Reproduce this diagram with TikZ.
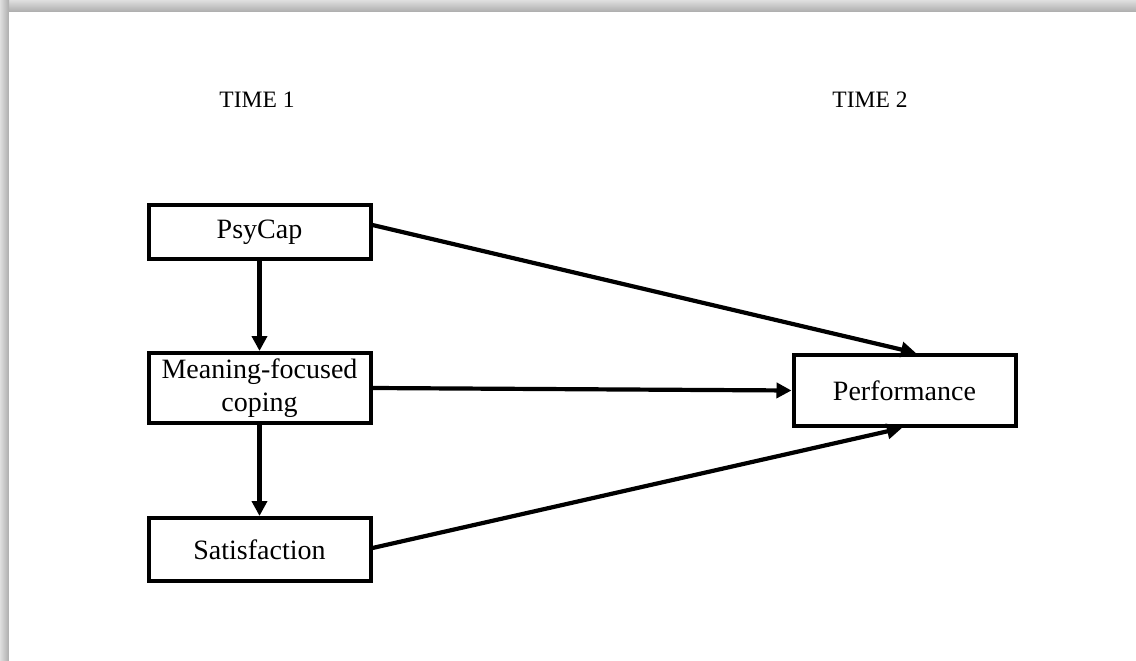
\documentclass[tikz,border=0pt]{standalone}
\usepackage{fontspec}
\setmainfont{Liberation Serif}
\usetikzlibrary{arrows.meta}
\begin{document}
\begin{tikzpicture}[x=1pt,y=-1pt,
  box/.style={draw, line width=4pt, minimum width=222pt, inner sep=0pt, align=center, font=\fontsize{28}{33}\selectfont},
  link/.style={line width=4.2pt, -{Triangle[length=15pt,width=15pt]}},
  label/.style={font=\fontsize{23.5}{28}\selectfont}]
  % page with shadow along the top and left edges
  \useasboundingbox (0,0) rectangle (1136,661);
  \fill[white] (0,0) rectangle (1136,661);
  \shade[top color=gray!25, bottom color=gray!65] (0,0) rectangle (1136,12);
  \shade[left color=gray!25, right color=gray!65] (0,0) rectangle (9,661);
  \fill[white] (9,12) rectangle (1136,661);

  \node[label] (t1) at (257,100) {TIME 1};
  \node[label] (t2) at (870,100) {TIME 2};

  \node[box, minimum height=54pt] (psy) at (259.5,232) {PsyCap};
  \node[box, minimum height=70pt] (mfc) at (259.5,388) {Meaning-focused\\coping};
  \node[box, minimum height=63pt] (sat) at (259.5,549.5) {Satisfaction};
  \node[box, minimum height=71pt] (perf) at (904.5,390.5) {Performance};

  \draw[link] (psy.south) -- (mfc.north);
  \draw[link] (mfc.south) -- (sat.north);
  \draw[link] (psy.east |- 0,225) -- (perf.north -| 916,0);
  \draw[link] (mfc.east) -- (perf.west);
  \draw[link] (sat.east |- 0,548) -- (perf.south -| 902,0);
\end{tikzpicture}
\end{document}
